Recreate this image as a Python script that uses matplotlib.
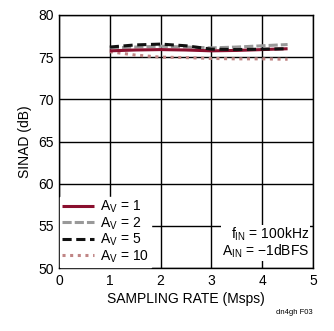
import matplotlib
matplotlib.use("Agg")
import matplotlib.pyplot as plt
from matplotlib import font_manager

names = {f.name for f in font_manager.fontManager.ttflist}
fam = "Liberation Sans Narrow" if "Liberation Sans Narrow" in names else "Liberation Sans"
plt.rcParams['font.family'] = [fam, 'DejaVu Sans']
plt.rcParams['mathtext.fontset'] = 'custom'
plt.rcParams['mathtext.rm'] = fam

rate = [1, 1.5, 2, 2.5, 3, 3.5, 4, 4.5]
av1 = [75.75, 75.85, 75.9, 75.85, 75.75, 75.8, 75.9, 76.0]
av2 = [76.1, 76.2, 76.3, 76.2, 76.1, 76.2, 76.35, 76.5]
av5 = [76.2, 76.45, 76.55, 76.35, 75.95, 75.9, 75.95, 76.0]
av10 = [75.65, 75.25, 75.0, 74.95, 74.85, 74.8, 74.8, 74.75]
labels = [r"A$_\mathrm{V}$ = 1", r"A$_\mathrm{V}$ = 2", r"A$_\mathrm{V}$ = 5", r"A$_\mathrm{V}$ = 10"]

fig = plt.figure(figsize=(3.34, 3.31), dpi=100)
ax = fig.add_axes([59/334, 1-268/331, (313-59)/334, (268-15)/331])

ax.plot(rate, av1, color="#8a0f2e", lw=2.2, solid_capstyle='butt', label=labels[0], zorder=4)
ax.plot(rate, av2, color="#999999", lw=2.2, ls=(0, (3, 1)), label=labels[1], zorder=3)
ax.plot(rate, av5, color="#111111", lw=2.2, ls=(0, (3, 1.5)), label=labels[2], zorder=5)
ax.plot(rate, av10, color="#c08585", lw=2.2, ls=(0, (1, 1.5)), label=labels[3], zorder=2)

ax.set_xlim(0, 5)
ax.set_ylim(50, 80)
ax.set_xticks([0, 1, 2, 3, 4, 5])
ax.set_yticks([50, 55, 60, 65, 70, 75, 80])
ax.grid(True, color="black", lw=1)
for s in ax.spines.values():
    s.set_linewidth(1)
ax.tick_params(length=0, labelsize=10, pad=4)
ax.set_xlabel("SAMPLING RATE (Msps)", fontsize=10, labelpad=3)
ax.set_ylabel("SINAD (dB)", fontsize=10, labelpad=4)

leg = ax.legend(loc="lower left", frameon=True, fontsize=10, handlelength=2.3,
                handletextpad=0.4, labelspacing=0.0, borderpad=0.15,
                borderaxespad=0.1, fancybox=False)
leg.get_frame().set_edgecolor("white")
leg.get_frame().set_facecolor("white")
leg.get_frame().set_alpha(1)

ax.text(0.985, 0.03, "f$_\\mathrm{IN}$ = 100kHz\nA$_\\mathrm{IN}$ = \u22121dBFS", transform=ax.transAxes,
        ha="right", va="bottom", fontsize=10, linespacing=1.0,
        bbox=dict(facecolor="white", edgecolor="none", pad=0.5))

fig.text(313/334, 1-313/331, "dn4gh F03", ha="right", va="center", fontsize=5.5)

fig.savefig("out.png", dpi=100)
